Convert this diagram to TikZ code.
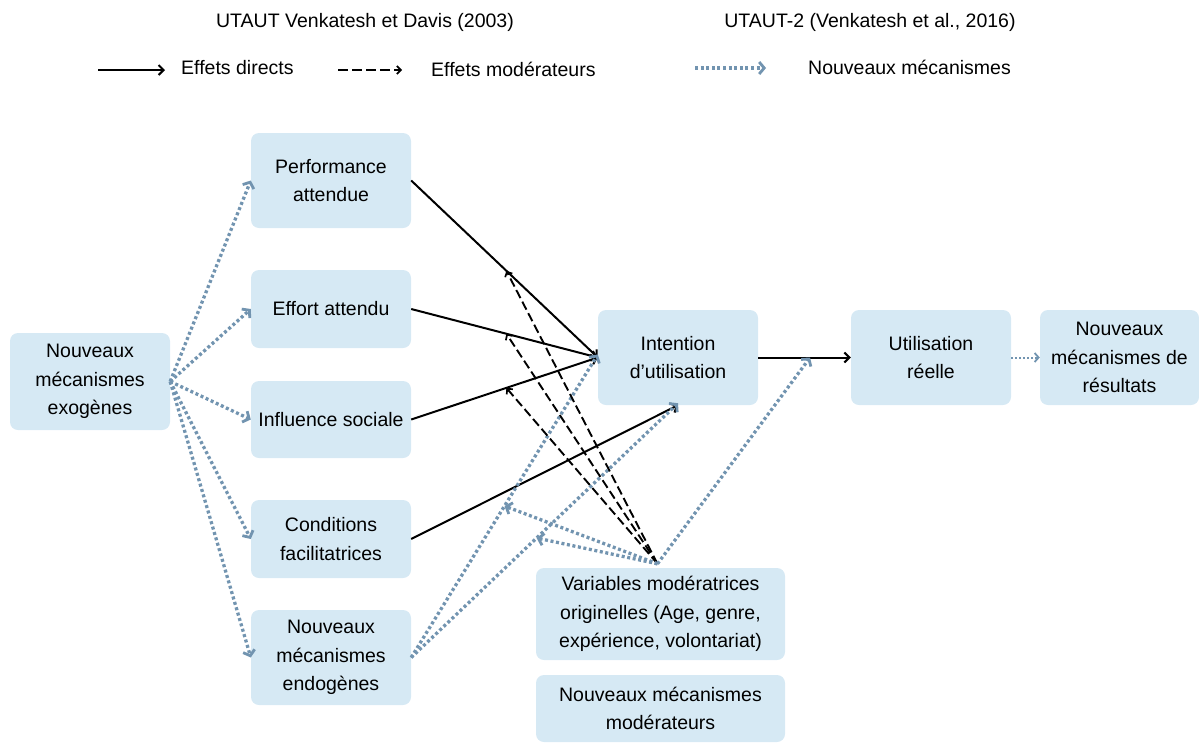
\documentclass[tikz,border=0pt]{standalone}
\usepackage{fontspec}
\setmainfont{Liberation Sans}
\usetikzlibrary{arrows.meta}
\definecolor{boxfill}{HTML}{D6E9F4}
\definecolor{dotcol}{HTML}{7294B0}
\tikzset{
  box/.style={fill=boxfill, rounded corners=8pt, align=center, inner sep=2pt,
    font=\fontsize{19.5}{28.8}\selectfont},
  lbl/.style={font=\fontsize{19.5}{24}\selectfont, inner sep=0pt},
  direct/.style={line width=2pt, -{Straight Barb[length=5pt,width=10pt,line width=2pt]}},
  modline/.style={line width=1.9pt, dash pattern=on 9pt off 4pt, -{Straight Barb[length=4pt,width=8pt,line width=1.7pt]}},
  newline/.style={draw=dotcol, line width=3.3pt, dash pattern=on 3pt off 2.6pt,
    -{Straight Barb[length=5pt,width=12pt,line width=2.8pt]}},
  thinnew/.style={draw=dotcol, line width=2pt, dash pattern=on 2pt off 2pt,
    -{Straight Barb[length=4pt,width=9pt,line width=1.8pt]}}
}
\begin{document}
\begin{tikzpicture}[x=1pt,y=-1pt]
\useasboundingbox (0,0) rectangle (1199,742);
% legend
\node[lbl] (h1) at (365,22) {UTAUT Venkatesh et Davis (2003)};
\node[lbl] (h2) at (870,22) {UTAUT-2 (Venkatesh et al., 2016)};
\coordinate (la1) at (98,70); \coordinate (la2) at (165,70);
\coordinate (lb1) at (338,70); \coordinate (lb2) at (402,70);
\coordinate (lc1) at (695,68); \coordinate (lc2) at (766,68);
\draw[direct] (la1) -- (la2);
\draw[modline, line width=2.3pt, dash pattern=on 10pt off 4pt] (lb1) -- (lb2);
\draw[newline] (lc1) -- (lc2);
\node[lbl, anchor=west] (t1) at (181,68) {Effets directs};
\node[lbl, anchor=west] (t2) at (431,69) {Effets modérateurs};
\node[lbl, anchor=west] (t3) at (808,67) {Nouveaux mécanismes};
% boxes
\node[box, minimum width=160pt, minimum height=97pt] (exo) at (90,381.5) {Nouveaux\\mécanismes\\exogènes};
\node[box, minimum width=160pt, minimum height=95pt] (perf) at (331,180.5) {Performance\\attendue};
\node[box, minimum width=160pt, minimum height=78pt] (eff) at (331,309) {Effort attendu};
\node[box, minimum width=160pt, minimum height=77pt] (infl) at (331,419.5) {Influence sociale};
\node[box, minimum width=160pt, minimum height=78pt] (cond) at (331,539) {Conditions\\facilitatrices};
\node[box, minimum width=160pt, minimum height=95pt] (endo) at (331,657.5) {Nouveaux\\mécanismes\\endogènes};
\node[box, minimum width=160pt, minimum height=95pt] (int) at (678,357.5) {Intention\\d’utilisation};
\node[box, minimum width=160pt, minimum height=95pt] (util) at (931,357.5) {Utilisation\\réelle};
\node[box, minimum width=159pt, minimum height=95pt] (res) at (1119.5,357.5) {Nouveaux\\mécanismes de\\résultats};
\node[box, minimum width=249pt, minimum height=92pt] (var) at (660.5,614) {Variables modératrices\\originelles (Age, genre,\\expérience, volontariat)};
\node[box, minimum width=249pt, minimum height=67pt] (mod) at (660.5,708.5) {Nouveaux mécanismes\\modérateurs};
% direct effects
\draw[direct] (perf.east) -- (int.west) coordinate[pos=0.51] (m1);
\draw[direct] (eff.east) -- (int.west) coordinate[pos=0.51] (m2);
\draw[direct] (infl.east) -- (int.west) coordinate[pos=0.51] (m3);
\draw[direct] (cond.east) -- (int.south);
\draw[direct] (int.east) -- (util.west) coordinate[pos=0.56] (m4);
% new mechanisms from exo
\draw[newline] (exo.east) -- (perf.west);
\draw[newline] (exo.east) -- (eff.west);
\draw[newline] (exo.east) -- (infl.west);
\draw[newline] (exo.east) -- (cond.west);
\draw[newline] (exo.east) -- (endo.west);
% endo to intention
\draw[newline] (endo.east) -- ([yshift=3pt]int.west) coordinate[pos=0.5] (m5);
\draw[newline] (endo.east) -- ([yshift=2pt]int.south) coordinate[pos=0.47] (m6);
% moderators
\coordinate (vs) at ([shift={(-3,-4)}]var.north);
\draw[modline] (vs) -- (m1);
\draw[modline] (vs) -- (m2);
\draw[modline] (vs) -- (m3);
\draw[newline] (vs) -- (m5);
\draw[newline] (vs) -- (m6);
\draw[newline] (vs) -- (m4);
\draw[thinnew] (util.east) -- (res.west);
\end{tikzpicture}
\end{document}
